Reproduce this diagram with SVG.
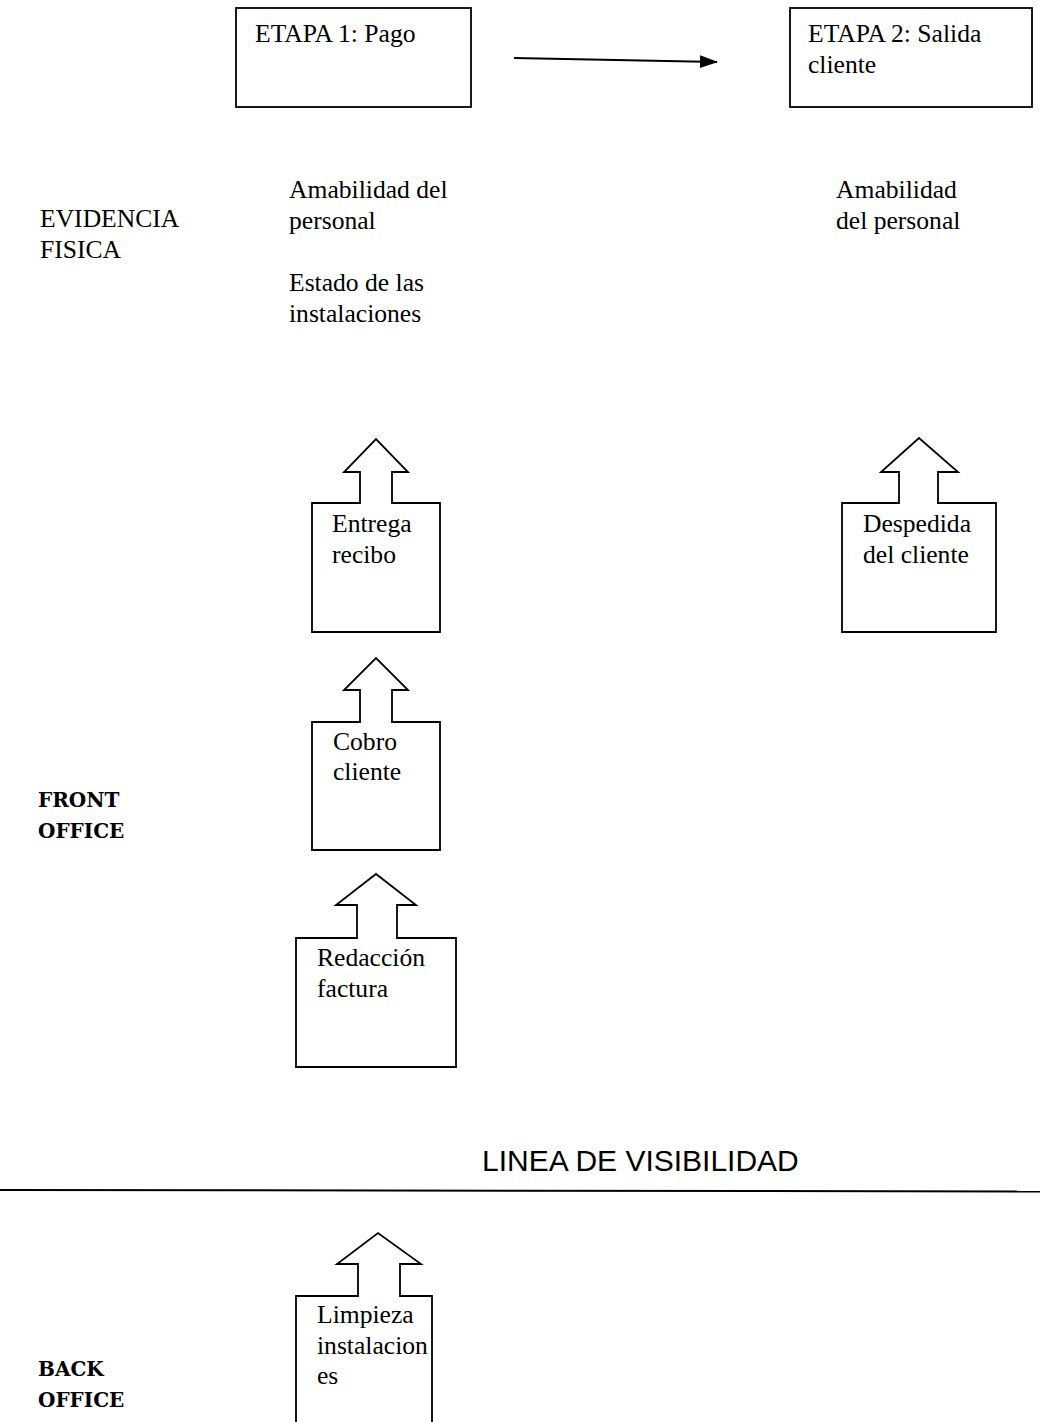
<svg xmlns="http://www.w3.org/2000/svg" width="1040" height="1422" viewBox="0 0 1040 1422">
<style>
.t{font-family:"Liberation Serif","Times New Roman",serif;font-size:25.6px;fill:#000}
.b{font-family:"DejaVu Serif",serif;font-size:20px;font-weight:bold;fill:#000}
.s{font-family:"Liberation Sans",Arial,sans-serif;font-size:30px;fill:#000}
.box{fill:#fff;stroke:#000;stroke-width:1.8}
</style>
<defs>
<marker id="ah" markerWidth="18" markerHeight="13" refX="17" refY="6.5" orient="auto" markerUnits="userSpaceOnUse" viewBox="0 0 18 13">
<path d="M0,0 L18,6.5 L0,13 Z" fill="#000"/>
</marker>
</defs>
<rect width="1040" height="1422" fill="#fff"/>

<g id="etapa1">
<rect class="box" x="236" y="8" width="235" height="99"/>
<text class="t" x="255" y="42">ETAPA 1: Pago</text>
</g>
<g id="etapa2">
<rect class="box" x="790" y="8" width="242" height="99"/>
<text class="t" x="808" y="42">ETAPA 2: Salida</text>
<text class="t" x="808" y="73">cliente</text>
</g>

<g id="labels">
<text class="t" x="40" y="227">EVIDENCIA</text>
<text class="t" x="40" y="258">FISICA</text>
<text class="t" x="289" y="198">Amabilidad del</text>
<text class="t" x="289" y="229">personal</text>
<text class="t" x="289" y="291">Estado de las</text>
<text class="t" x="289" y="322">instalaciones</text>
<text class="t" x="836" y="198">Amabilidad</text>
<text class="t" x="836" y="229">del personal</text>
<text class="b" x="38" y="807">FRONT</text>
<text class="b" x="38" y="838">OFFICE</text>
<text class="b" x="38" y="1376">BACK</text>
<text class="b" x="38" y="1407">OFFICE</text>
<text class="s" x="482" y="1171">LINEA DE VISIBILIDAD</text>
</g>

<g id="entrega">
<path class="box" d="M312,503 H360 V472 H344 L376,439 L408,472 H392 V503 H440 V632 H312 Z"/>
<text class="t" x="332" y="532">Entrega</text>
<text class="t" x="332" y="563">recibo</text>
</g>
<g id="despedida">
<path class="box" d="M842,503 H899 V472 H881 L919,438 L958,472 H938 V503 H996 V632 H842 Z"/>
<text class="t" x="863" y="532">Despedida</text>
<text class="t" x="863" y="563">del cliente</text>
</g>
<g id="cobro">
<path class="box" d="M312,722 H360 V690 H344 L376,658 L408,690 H392 V722 H440 V850 H312 Z"/>
<text class="t" x="333" y="750">Cobro</text>
<text class="t" x="333" y="780">cliente</text>
</g>
<g id="redaccion">
<path class="box" d="M296,938 H357 V905 H336 L376,874 L416,905 H397 V938 H456 V1067 H296 Z"/>
<text class="t" x="317" y="966">Redacción</text>
<text class="t" x="317" y="997">factura</text>
</g>
<g id="limpieza">
<path class="box" d="M296,1296 H358 V1264 H337 L378,1233 L421,1264 H400 V1296 H432 V1440 H296 Z"/>
<text class="t" x="317" y="1323">Limpieza</text>
<text class="t" x="317" y="1354">instalacion</text>
<text class="t" x="317" y="1384">es</text>
</g>

<g id="connectors">
<line x1="514" y1="58" x2="717" y2="62" stroke="#000" stroke-width="2" marker-end="url(#ah)"/>
<line x1="0" y1="1190" x2="1040" y2="1191.5" stroke="#000" stroke-width="2"/>
</g>
</svg>
